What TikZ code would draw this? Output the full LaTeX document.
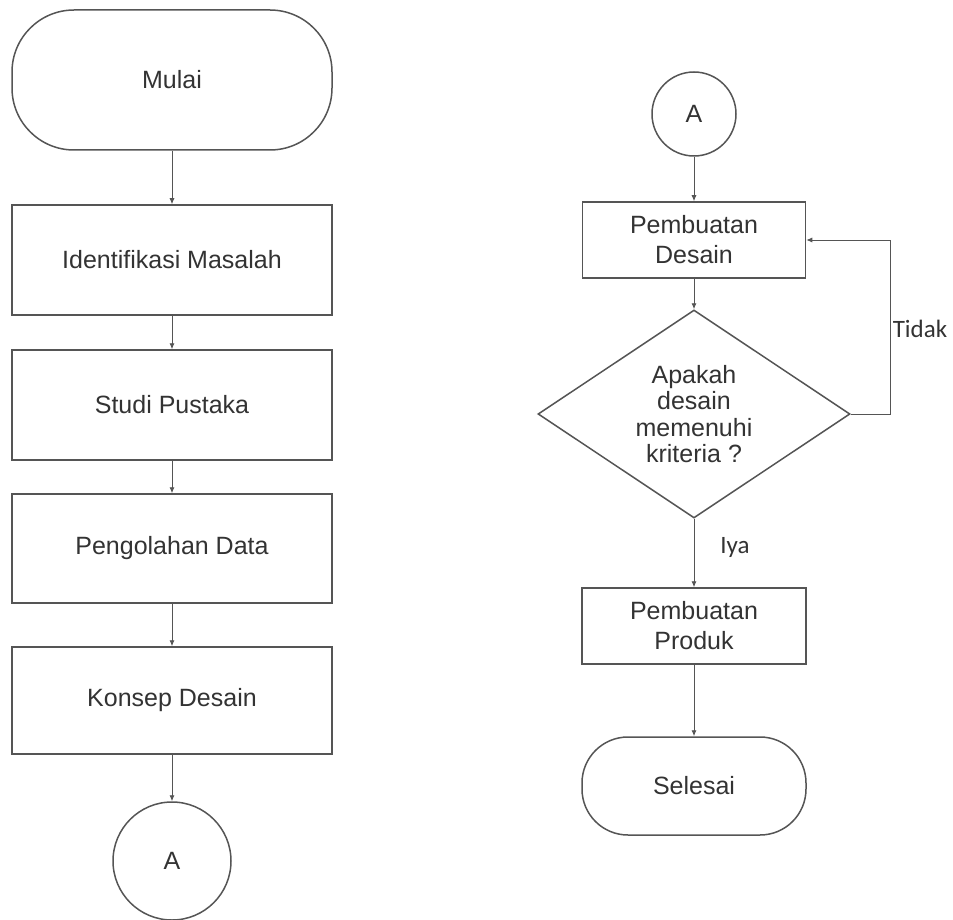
\documentclass[tikz,border=0pt]{standalone}
\usepackage{fontspec}
\setmainfont{Liberation Sans}
\newfontfamily\labelfont{Carlito}
\usetikzlibrary{shapes.geometric,arrows.meta}
\definecolor{linec}{HTML}{555555}
\definecolor{txt}{HTML}{333333}
\begin{document}
\begin{tikzpicture}[x=1pt,y=-1pt,
  shapebase/.style={draw=linec, line width=1.5pt, inner sep=0pt, text=txt,
    font=\fontsize{25}{30}\selectfont, align=center},
  procbox/.style={shapebase, rectangle},
  termbox/.style={shapebase, rectangle, rounded corners=50pt},
  connbox/.style={shapebase, circle},
  decbox/.style={shapebase, diamond, aspect=1.5, font=\fontsize{25}{26.5}\selectfont},
  conn/.style={draw=linec, line width=0.9pt, -{Latex[length=6pt,width=5pt]}},
  edgelabel/.style={font=\labelfont\fontsize{25}{30}\selectfont, text=txt, inner sep=0pt}
]
\useasboundingbox (0,0) rectangle (953,920);
\fill[white] (0,0) rectangle (953,920);

% left column
\node[termbox, rounded corners=62pt, minimum width=320pt, minimum height=140pt] (mulai) at (172,80) {Mulai};
\node[procbox, minimum width=320pt, minimum height=110pt] (ident) at (172,260) {Identifikasi Masalah};
\node[procbox, minimum width=320pt, minimum height=110pt] (studi) at (172,405) {Studi Pustaka};
\node[procbox, minimum width=320pt, minimum height=109pt] (olah) at (172,548.5) {Pengolahan Data};
\node[procbox, minimum width=320pt, minimum height=107pt] (konsep) at (172,700.5) {Konsep Desain};
\node[connbox, minimum size=118pt] (la) at (172,861) {A};

\draw[conn] (mulai.south) -- (ident.north);
\draw[conn] (ident.south) -- (studi.north);
\draw[conn] (studi.south) -- (olah.north);
\draw[conn] (olah.south) -- (konsep.north);
\draw[conn] (konsep.south) -- (la.north);

% right column
\node[connbox, minimum size=84pt] (ra) at (694,114) {A};
\node[procbox, minimum width=223pt, minimum height=76pt] (desain) at (694,240) {Pembuatan\\Desain};
\node[decbox, minimum width=312pt, minimum height=208pt] (dec) at (694,414) {Apakah\\desain\\memenuhi\\kriteria ?};
\node[procbox, minimum width=224pt, minimum height=76pt] (produk) at (694,626) {Pembuatan\\Produk};
\node[termbox, rounded corners=46pt, minimum width=224pt, minimum height=98pt] (selesai) at (694,786) {Selesai};

\coordinate (loop) at (890,414);
\draw[conn] (ra.south) -- (desain.north);
\draw[conn] (desain.south) -- (dec.north);
\draw[conn] (dec.south) -- (produk.north);
\draw[conn] (produk.south) -- (selesai.north);
\draw[conn] (dec.east) -- (loop) |- (desain.east);

\node[edgelabel] (iya) at (735,547) {Iya};
\node[edgelabel] (tidak) at (920,329) {Tidak};
\end{tikzpicture}
\end{document}
